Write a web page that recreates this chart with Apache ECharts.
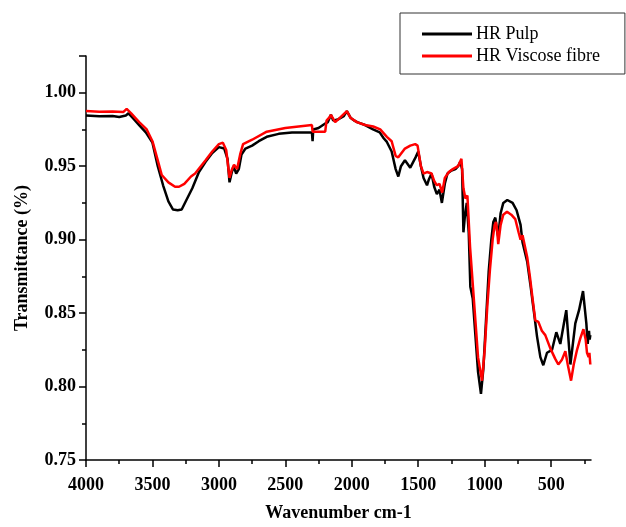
<!DOCTYPE html>
<html>
<head>
<meta charset="utf-8">
<script src="https://cdn.jsdelivr.net/npm/echarts@6/dist/echarts.min.js"></script>
<style>html,body{margin:0;padding:0;background:#fff;}#c{width:626px;height:527px;}</style>
</head>
<body>
<div id="c"></div>
<script>
const seriesNames = ['HR Pulp', 'HR Viscose fibre'];
const xTickLabels = [4000, 3500, 3000, 2500, 2000, 1500, 1000, 500];
const xMinorTicks = [3750, 3250, 2750, 2250, 1750, 1250, 750, 250];

const pulpWn = [4000,3900,3800,3750,3700,3680,3650,3600,3550,3500,3460,3420,3380,3345,3310,3280,3250,3200,3150,3100,3050,3000,2960,2935,2920,2905,2890,2870,2850,2830,2800,2750,2700,2640,2550,2450,2350,2300,2295,2290,2250,2200,2180,2157,2140,2125,2100,2060,2037,2010,1980,1960,1900,1840,1790,1760,1736,1700,1670,1650,1630,1600,1586,1560,1548,1520,1500,1480,1460,1434,1420,1400,1380,1360,1340,1322,1300,1280,1250,1220,1200,1184,1170,1160,1150,1135,1120,1108,1090,1070,1050,1028,1010,990,970,950,935,920,905,898,880,860,830,815,790,760,730,715,700,680,657,634,606,581,559,531,493,461,431,400,386,372,355,318,290,260,235,225,215,210,205];
const pulpT  = [0.9845,0.984,0.9842,0.9835,0.9845,0.986,0.983,0.978,0.973,0.966,0.950,0.937,0.926,0.9205,0.920,0.9205,0.926,0.935,0.946,0.953,0.959,0.963,0.962,0.955,0.939,0.945,0.950,0.945,0.948,0.958,0.962,0.964,0.967,0.970,0.972,0.973,0.973,0.973,0.967,0.975,0.976,0.979,0.980,0.985,0.981,0.980,0.982,0.984,0.9875,0.983,0.981,0.980,0.978,0.975,0.973,0.969,0.9665,0.960,0.948,0.943,0.950,0.954,0.953,0.949,0.948,0.956,0.960,0.950,0.942,0.937,0.941,0.945,0.936,0.931,0.934,0.925,0.938,0.945,0.947,0.948,0.950,0.953,0.948,0.905,0.915,0.925,0.905,0.868,0.860,0.835,0.810,0.795,0.812,0.845,0.878,0.900,0.912,0.915,0.905,0.902,0.918,0.925,0.927,0.927,0.925,0.920,0.910,0.898,0.897,0.885,0.870,0.854,0.834,0.820,0.8145,0.823,0.825,0.837,0.829,0.845,0.852,0.835,0.815,0.843,0.852,0.865,0.843,0.829,0.838,0.832,0.835];

const viscoseWn = [4000,3900,3800,3720,3694,3660,3600,3543,3500,3460,3430,3380,3330,3300,3260,3210,3179,3100,3050,3000,2970,2945,2920,2905,2886,2863,2840,2818,2750,2640,2500,2400,2300,2295,2200,2193,2190,2170,2157,2125,2100,2037,2010,1962,1900,1839,1786,1736,1700,1670,1650,1635,1600,1560,1523,1505,1480,1460,1434,1420,1400,1380,1360,1340,1320,1300,1270,1240,1200,1175,1160,1145,1130,1110,1090,1070,1050,1020,1000,980,960,940,925,915,905,898,880,860,832,800,770,745,730,715,700,680,660,640,619,596,570,544,506,470,446,420,393,375,350,330,305,280,257,240,230,218,212,205];
const viscoseT  = [0.9875,0.987,0.9872,0.9868,0.989,0.986,0.980,0.975,0.967,0.954,0.944,0.939,0.936,0.936,0.938,0.943,0.945,0.954,0.960,0.965,0.966,0.961,0.942,0.947,0.951,0.948,0.958,0.965,0.968,0.9735,0.976,0.977,0.978,0.9735,0.9735,0.9735,0.981,0.983,0.985,0.980,0.982,0.9875,0.983,0.980,0.978,0.977,0.975,0.970,0.967,0.957,0.956,0.956,0.962,0.964,0.965,0.964,0.950,0.945,0.946,0.947,0.945,0.940,0.937,0.938,0.932,0.942,0.946,0.948,0.950,0.955,0.935,0.928,0.930,0.895,0.870,0.845,0.820,0.804,0.825,0.855,0.880,0.900,0.910,0.912,0.905,0.897,0.910,0.917,0.919,0.917,0.914,0.905,0.900,0.903,0.902,0.888,0.875,0.860,0.845,0.844,0.838,0.835,0.826,0.819,0.815,0.818,0.824,0.815,0.804,0.815,0.825,0.833,0.839,0.832,0.823,0.820,0.823,0.815];

const pairs = (xs, ys) => xs.map((x, i) => [x, ys[i]]);
const FONT = '"Liberation Serif", "Times New Roman", serif';

const chart = echarts.init(document.getElementById('c'), null, {renderer: 'canvas'});
chart.setOption({
  animation: false,
  backgroundColor: '#fff',
  grid: {left: 86, right: 35, top: 56, bottom: 62, containLabel: false},
  legend: {
    orient: 'vertical',
    left: 400, top: 13,
    padding: [12, 25, 9, 22],
    itemGap: 4,
    itemWidth: 50, itemHeight: 3,
    icon: 'rect',
    borderColor: '#333', borderWidth: 1,
    textStyle: {fontFamily: FONT, fontSize: 18, color: '#000', padding: [0, 0, 0, -1]},
    data: seriesNames
  },
  xAxis: [{
    type: 'value', inverse: true, min: 200, max: 4000,
    position: 'bottom',
    name: 'Wavenumber cm-1', nameLocation: 'middle', nameGap: 44,
    nameTextStyle: {fontFamily: FONT, fontSize: 18, fontWeight: 'bold', color: '#000'},
    axisLine: {show: true, lineStyle: {color: '#000', width: 1.5}},
    axisTick: {show: true, inside: false, length: 7, lineStyle: {color: '#000', width: 1.5}, customValues: xTickLabels},
    axisLabel: {margin: 16, fontFamily: FONT, fontSize: 18, fontWeight: 'bold', color: '#000', customValues: xTickLabels,
      formatter: v => String(v)},
    splitLine: {show: false}
  }, {
    type: 'value', inverse: true, min: 200, max: 4000,
    position: 'bottom',
    axisLine: {show: false},
    axisTick: {show: true, inside: false, length: 4, lineStyle: {color: '#000', width: 1.5}, customValues: xMinorTicks},
    axisLabel: {show: false},
    splitLine: {show: false}
  }],
  yAxis: {
    type: 'value', min: 0.75, max: 1.025, interval: 0.05,
    name: 'Transmittance (%)', nameLocation: 'middle', nameGap: 55,
    nameTextStyle: {fontFamily: FONT, fontSize: 18, fontWeight: 'bold', color: '#000'},
    axisLine: {show: true, lineStyle: {color: '#000', width: 1.5}},
    axisTick: {show: true, inside: false, length: 7, lineStyle: {color: '#000', width: 1.5}},
    minorTick: {show: true, splitNumber: 2, length: 4, lineStyle: {color: '#000', width: 1.5}},
    axisLabel: {margin: 10, fontFamily: FONT, fontSize: 18, fontWeight: 'bold', color: '#000', showMaxLabel: false,
      formatter: v => v.toFixed(2)},
    splitLine: {show: false}
  },
  series: [{
    name: seriesNames[0], type: 'line', xAxisIndex: 0, showSymbol: false, symbol: 'none',
    data: pairs(pulpWn, pulpT), color: '#000',
    lineStyle: {color: '#000', width: 2.5}
  }, {
    name: seriesNames[1], type: 'line', xAxisIndex: 0, showSymbol: false, symbol: 'none',
    data: pairs(viscoseWn, viscoseT), color: '#ff0000',
    lineStyle: {color: '#ff0000', width: 2.5}
  }]
});
</script>
</body>
</html>
